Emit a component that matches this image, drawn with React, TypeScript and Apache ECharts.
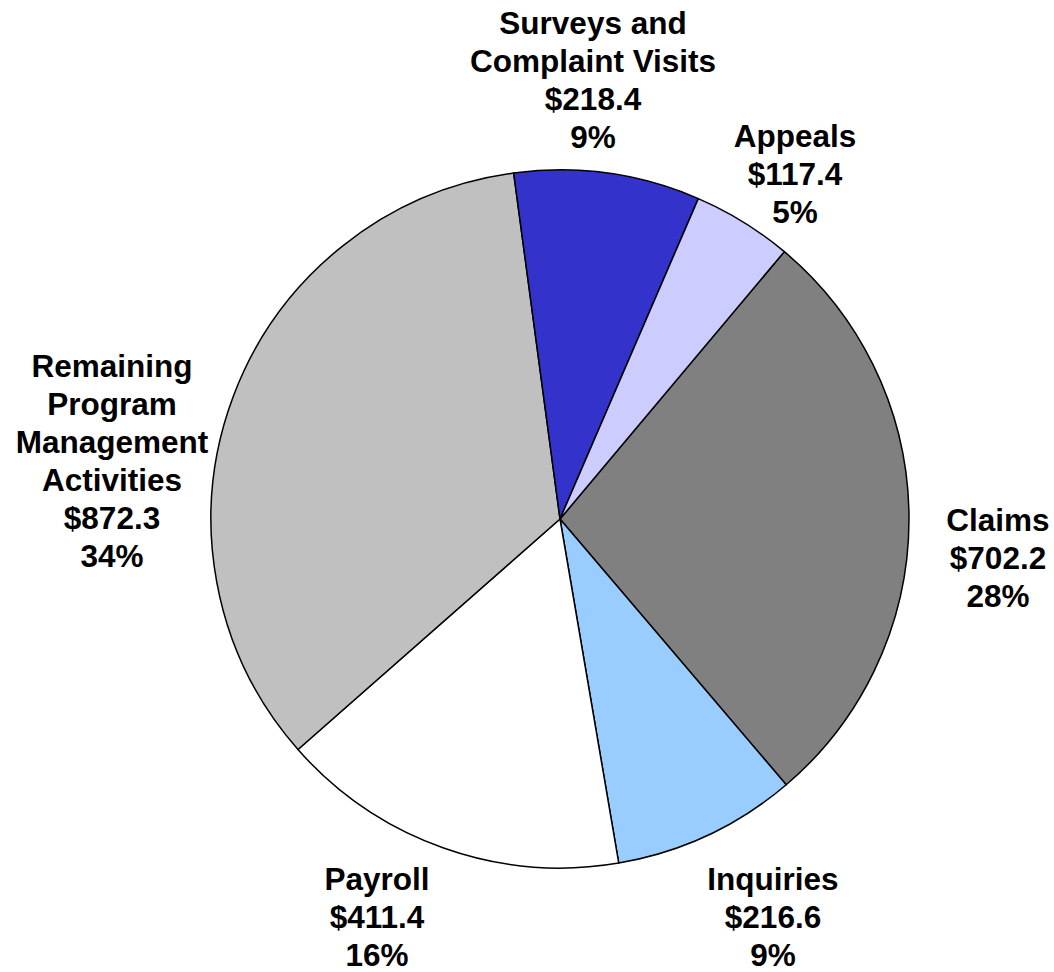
import React, { useEffect, useRef } from "react";
import * as echarts from "echarts";

const categories = [
  "Claims",
  "Inquiries",
  "Payroll",
  "Remaining\nProgram\nManagement\nActivities",
  "Surveys and\nComplaint Visits",
  "Appeals",
];
const values = [702.2, 216.6, 411.4, 872.3, 218.4, 117.4];
const colors = ["#808080", "#99CCFF", "#FFFFFF", "#C0C0C0", "#3333CC", "#CCCCFF"];
const labelCenters: [number, number][] = [
  [998, 558],
  [773, 917],
  [377, 917],
  [112, 461],
  [593, 80],
  [795, 174],
];

export default function App() {
  const ref = useRef<HTMLDivElement>(null);
  useEffect(() => {
    if (!ref.current) return;
    const chart = echarts.init(ref.current, null, { renderer: "svg" });
    const total = values.reduce((a, b) => a + b, 0);
    chart.setOption({
      animation: false,
      backgroundColor: "#FFFFFF",
      series: [
        {
          type: "pie",
          center: [560, 519],
          radius: [0, 349],
          startAngle: 50,
          clockwise: true,
          avoidLabelOverlap: false,
          data: categories.map((c, i) => ({
            name: c,
            value: values[i],
            itemStyle: { color: colors[i] },
          })),
          itemStyle: { borderColor: "#000000", borderWidth: 1.5 },
          label: {
            show: true,
            position: "outside",
            fontFamily: "Liberation Sans, Arial, sans-serif",
            fontWeight: "bold",
            fontSize: 31.5,
            lineHeight: 38,
            color: "#000000",
            align: "center",
            formatter: (p: any) =>
              `${p.name}\n$${p.value.toFixed(1)}\n${Math.round((p.value / total) * 100)}%`,
          },
          labelLine: { show: false },
          labelLayout: (params: any) => {
            const pos = labelCenters[params.dataIndex];
            return { x: pos[0], y: pos[1], align: "center", verticalAlign: "middle" };
          },
          emphasis: { disabled: true },
        },
      ],
    });
    return () => chart.dispose();
  }, []);
  return (
    <div
      ref={ref}
      style={{ position: "fixed", left: 0, top: 0, width: 1054, height: 972 }}
    />
  );
}
